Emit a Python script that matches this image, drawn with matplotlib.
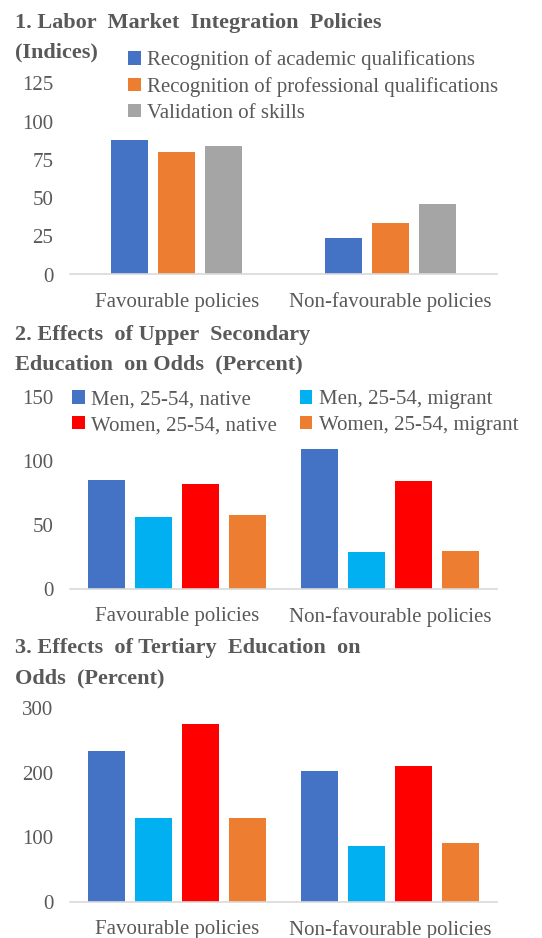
import numpy as np
import matplotlib.pyplot as plt

plt.rcParams['font.family'] = ['Liberation Serif', 'DejaVu Serif']

# data
categories = ['Favourable policies', 'Non-favourable policies']

p1_series = ['Recognition of academic qualifications',
             'Recognition of professional qualifications',
             'Validation of skills']
p1_academic = [88, 24]
p1_professional = [80, 34]
p1_skills = [84, 46]

p2_series = ['Men, 25-54, native', 'Men, 25-54, migrant',
             'Women, 25-54, native', 'Women, 25-54, migrant']
p2_men_native = [85, 109]
p2_men_migrant = [56, 29]
p2_women_native = [82, 84]
p2_women_migrant = [58, 30]

p3_men_native = [233, 202]
p3_men_migrant = [130, 86]
p3_women_native = [275, 210]
p3_women_migrant = [130, 91]

grey = '#595959'
W, H = 542, 938
fig = plt.figure(figsize=(W / 100, H / 100), dpi=100)


def px_axes(x0, x1, ytop, ybot):
    return fig.add_axes([x0 / W, (H - ybot) / H, (x1 - x0) / W, (ybot - ytop) / H])


def draw_panel(ax, series, names, colors, ymax, step):
    n = len(series)
    x = np.arange(len(categories))
    offs = (np.arange(n) - (n - 1) / 2) * 0.22
    bars = []
    for vals, nm, c, o in zip(series, names, colors, offs):
        b = ax.bar(x + o, vals, width=0.173, color=c, label=nm, zorder=2)
        bars.append(b)
    ax.set_xlim(-0.5, 1.5)
    ax.set_ylim(0, ymax)
    ax.set_yticks(np.arange(0, ymax + 1, step))
    ax.set_xticks(x)
    ax.set_xticklabels(categories)
    for s in ['top', 'right', 'left']:
        ax.spines[s].set_visible(False)
    ax.spines['bottom'].set_color('#D9D9D9')
    ax.spines['bottom'].set_linewidth(1.2)
    ax.tick_params(axis='both', length=0, labelsize=15, colors=grey)
    ax.tick_params(axis='y', pad=12)
    ax.tick_params(axis='x', pad=13)
    ax.patch.set_alpha(0)
    return bars


def title(lines, ys):
    for t, y in zip(lines, ys):
        fig.text(15 / W, 1 - y / H, t, fontsize=16, fontweight='bold',
                 color=grey, va='center', ha='left')


c4 = ['#4472C4', '#00B0F0', '#FF0000', '#ED7D31']
leg_kw = dict(bbox_transform=fig.transFigure, frameon=False, fontsize=15,
              labelcolor=grey, handlelength=0.6, handleheight=0.6,
              handletextpad=0.3, labelspacing=0.33, borderaxespad=0,
              loc='upper left')

# panel 1
ax1 = px_axes(70, 497, 83.5, 274.5)
draw_panel(ax1, [p1_academic, p1_professional, p1_skills], p1_series,
           ['#4472C4', '#ED7D31', '#A5A5A5'], 125, 25)
title(['1. Labor  Market  Integration  Policies', '(Indices)'], [23, 52])
ax1.legend(bbox_to_anchor=(120 / W, 1 - 42 / H), **leg_kw)

# panel 2
ax2 = px_axes(70, 497, 397, 589)
b2 = draw_panel(ax2, [p2_men_native, p2_men_migrant, p2_women_native, p2_women_migrant],
                p2_series, c4, 150, 50)
# row-major order like the original legend
order = [0, 2, 1, 3]
ax2.legend([b2[i] for i in order], [p2_series[i] for i in order],
           bbox_to_anchor=(64 / W, 1 - 382 / H), ncol=2, columnspacing=1.1,
           **leg_kw)

title(['2. Effects  of Upper  Secondary', 'Education  on Odds  (Percent)'], [335, 364])

# panel 3
ax3 = px_axes(70, 497, 708, 902)
draw_panel(ax3, [p3_men_native, p3_men_migrant, p3_women_native, p3_women_migrant],
           p2_series, c4, 300, 100)
title(['3. Effects  of Tertiary  Education  on', 'Odds  (Percent)'], [648, 678])

fig.savefig('out.png', dpi=100)
